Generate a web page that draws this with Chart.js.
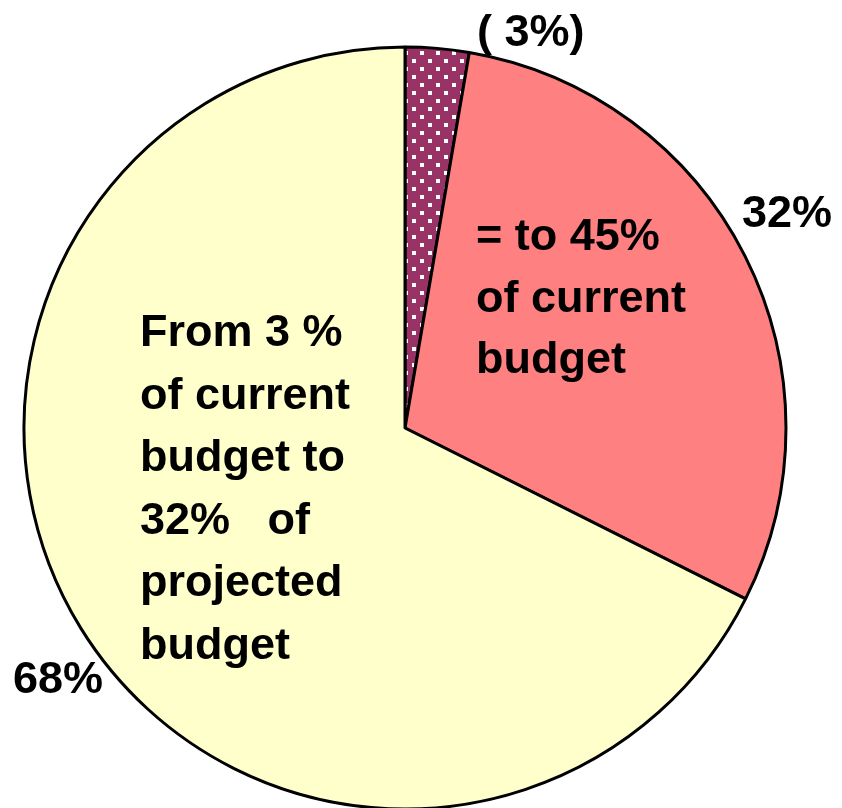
<!DOCTYPE html>
<html>
<head>
<meta charset="utf-8">
<style>
  html, body { margin: 0; padding: 0; background: #fff; }
  #wrap { width: 842px; height: 808px; }
</style>
<script src="https://cdn.jsdelivr.net/npm/chart.js@4/dist/chart.umd.min.js"></script>
</head>
<body>
<div id="wrap"><canvas id="pie" width="842" height="808"></canvas></div>
<script>
// slice shares (clockwise from 12 o'clock)
const sliceNames = ['Dotted', 'Pink', 'Yellow'];
const sliceValues = [2.7, 29.7, 67.6];

// outside percentage labels
const pctLabels = ['( 3%)', '32%', '68%'];

// text written inside the slices
const pinkLines = ['= to 45%', 'of current', 'budget'];
const yellowLines = ['From 3 %', 'of current', 'budget to', '32%   of', 'projected', 'budget'];

const FONT = 'bold 45px "Liberation Sans", Arial, sans-serif';

// purple fill with little white squares
function dotPattern() {
    const c = document.createElement('canvas');
    c.width = 16;
    c.height = 16;
    const g = c.getContext('2d');
    g.fillStyle = '#993366';
    g.fillRect(0, 0, 16, 16);
    g.fillStyle = '#ffffff';
    g.fillRect(4, 3, 4, 4);
    g.fillRect(12, 11, 4, 4);
    return g.createPattern(c, 'repeat');
}

const ctx = document.getElementById('pie').getContext('2d');
const sliceColors = [dotPattern(), '#FF8080', '#FFFFCC'];

// text is placed relative to the pie centre
const labelPlugin = {
    id: 'pieText',
    afterDatasetsDraw(chart) {
        const arc = chart.getDatasetMeta(0).data[0];
        const cx = arc.x, cy = arc.y;
        const g = chart.ctx;
        g.save();
        g.font = FONT;
        g.fillStyle = '#000';
        g.textAlign = 'left';
        g.textBaseline = 'alphabetic';

        g.fillText(pctLabels[0], cx + 72, cy - 382);
        g.fillText(pctLabels[1], cx + 337, cy - 201);
        g.fillText(pctLabels[2], cx - 392, cy + 265);

        pinkLines.forEach((t, i) => g.fillText(t, cx + 71, cy - 178 + i * 61.5));
        yellowLines.forEach((t, i) => g.fillText(t, cx - 265, cy - 82 + i * 62.5));
        g.restore();
    }
};

new Chart(ctx, {
    type: 'pie',
    data: {
        labels: sliceNames,
        datasets: [{
            data: sliceValues,
            backgroundColor: sliceColors,
            borderColor: '#000',
            borderWidth: 3,
            radius: 381,
            clip: false
        }]
    },
    options: {
        responsive: false,
        animation: false,
        devicePixelRatio: 1,
        layout: { padding: { left: 0, right: 32, top: 48, bottom: 0 } },
        plugins: {
            legend: { display: false },
            tooltip: { enabled: false }
        }
    },
    plugins: [labelPlugin]
});
</script>
</body>
</html>
